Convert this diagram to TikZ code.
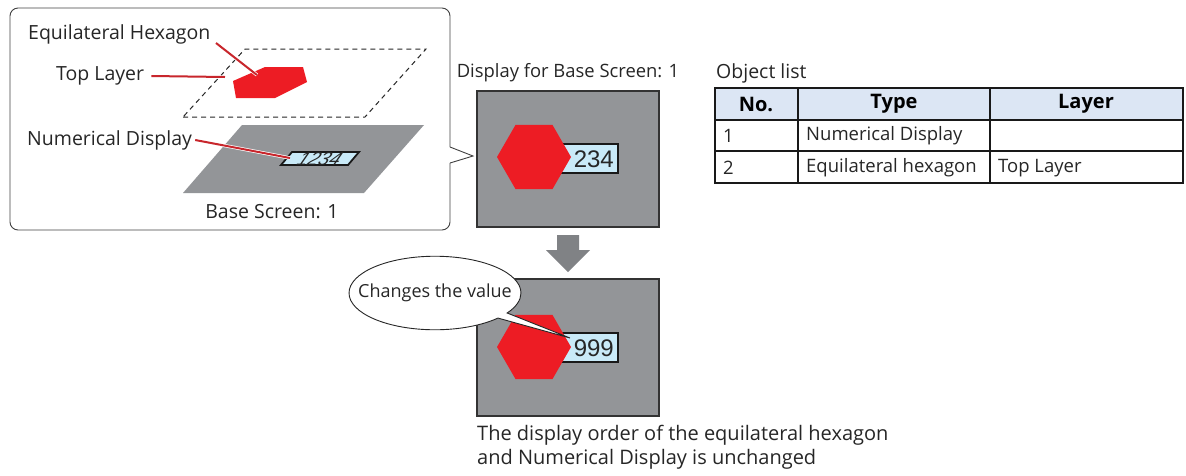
\documentclass[tikz,border=0pt]{standalone}
\usepackage{fontspec}
\setmainfont{Open Sans}
\newfontfamily\digitfont{Liberation Sans}
\usetikzlibrary{shapes.callouts, arrows.meta, positioning}
\definecolor{screengray}{HTML}{939598}
\definecolor{hexred}{HTML}{ED1C24}
\definecolor{leadred}{HTML}{C8262C}
\definecolor{numblue}{HTML}{C9EAF8}
\definecolor{headblue}{HTML}{DCE6F4}
\definecolor{arrowgray}{HTML}{808285}

\begin{document}
\begin{tikzpicture}[x=1pt, y=-1pt,
    lbl/.style={font=\fontsize{19.5}{23}\selectfont, inner sep=0pt, text=black!85},
    cell/.style={font=\fontsize{18.5}{21}\selectfont, inner sep=0pt, anchor=west, text=black!85},
    headcell/.style={font=\fontsize{20}{22}\selectfont\bfseries, inner sep=0pt},
    leader/.style={draw=white, double=leadred, double distance=2pt, line width=0.7pt},
    screen/.style={fill=screengray, draw=black!80, line width=1.3pt},
    numbox/.style={fill=numblue, draw=black!90, line width=2pt},
    digits/.style={font=\digitfont\fontsize{24}{24}\selectfont, inner sep=0pt, text=black!85}]
    \useasboundingbox (0,0) rectangle (1186,475);

    % Callout frame
    \draw[line width=0.9pt, black!75, rounded corners=8] (450,147) -- (450,8) -- (10,8) -- (10,230) -- (450,230) -- (450,163);
    \draw[line width=0.9pt, black!75] (450,147) -- (473,156) -- (450,163);

    % Layers
    \draw[line width=1pt, black!85, dash pattern=on 5pt off 4pt] (183,117) -- (365,117) -- (426,49) -- (245,49) -- cycle;
    \fill[hexred] (233,81) -- (265,67) -- (303,67) -- (307,82) -- (275,98) -- (236,98) -- cycle;
    \fill[screengray] (183,193) -- (364,193) -- (424,125) -- (242,125) -- cycle;
    \draw[numbox, line width=1.8pt] (281,165) -- (348,165) -- (359,152) -- (292,152) -- cycle;
    \node[font=\digitfont\itshape\fontsize{19}{19}\selectfont, inner sep=0pt, text=black!85, xslant=0.5] (num0) at (320,159) {1234};

    % Labels & leaders
    \node[lbl, anchor=west] (hexlbl) at (28,34) {Equilateral Hexagon};
    \node[lbl, anchor=west] (toplbl) at (56,76) {Top Layer};
    \node[lbl, anchor=west] (numlbl) at (27,140) {Numerical Display};
    \node[lbl] (baselbl) at (272,212) {Base Screen: 1};
    \coordinate (hextip) at (257,75);
    \coordinate (toptip) at (225,77);
    \coordinate (numtip) at (290,158);
    \draw[leader] (216,43) -- (hextip);
    \draw[leader] ([xshift=7pt]toplbl.east) -- (toptip);
    \draw[leader] ([xshift=3pt]numlbl.east) -- (numtip);

    % Display before
    \node[lbl, font=\fontsize{18.4}{22}\selectfont] (displbl) at (568,73) {Display for Base Screen: 1};
    \draw[screen] (477,91) rectangle (659,227);
    \draw[numbox] (548,144) rectangle (618,173);
    \node[digits, anchor=east] (num1) at (614,159) {234};
    \fill[hexred] (534,157) +(0:37) -- +(60:37) -- +(120:37) -- +(180:37) -- +(240:37) -- +(300:37) -- cycle;

    % Arrow
    \fill[arrowgray] (557,235) -- (579,235) -- (579,250) -- (590,250) -- (568,272) -- (546,250) -- (557,250) -- cycle;

    % Display after
    \draw[screen] (477,279) rectangle (659,416);
    \draw[numbox] (548,333) rectangle (618,362);
    \node[digits, anchor=east] (num2) at (614,348) {999};
    \fill[hexred] (534,347) +(0:37) -- +(60:37) -- +(120:37) -- +(180:37) -- +(240:37) -- +(300:37) -- cycle;
    \node[lbl, font=\fontsize{18}{22}\selectfont, ellipse callout, draw=black!85, fill=white, line width=0.9pt,
        inner xsep=-16pt, inner ysep=17pt, callout absolute pointer={(570,338)}, callout pointer arc=10] (chglbl) at (435,293) {Changes the value};

    \node[lbl, anchor=north west, align=left, font=\fontsize{20}{24}\selectfont] (notelbl) at (477,425)
        {The display order of the equilateral hexagon\\and Numerical Display is unchanged};

    % Object list
    \node[lbl, anchor=west] (objlbl) at (716,73) {Object list};
    \fill[headblue] (715,88) rectangle (1183,120);
    \draw[line width=1.4pt, black!90] (715,88) rectangle (1183,183);
    \draw[line width=1.4pt, black!90] (715,120) -- (1183,120) (715,151) -- (1183,151)
        (798,88) -- (798,183) (990,88) -- (990,183);
    \node[headcell] (hno) at (756,104) {No.};
    \node[headcell] (htype) at (894,104) {Type};
    \node[headcell] (hlayer) at (1086,104) {Layer};
    \node[cell] (r1no) at (723,136) {1};
    \node[cell] (r1type) at (806,136) {Numerical Display};
    \node[cell] (r2no) at (723,168) {2};
    \node[cell] (r2type) at (806,168) {Equilateral hexagon};
    \node[cell] (r2layer) at (998,168) {Top Layer};
\end{tikzpicture}
\end{document}
